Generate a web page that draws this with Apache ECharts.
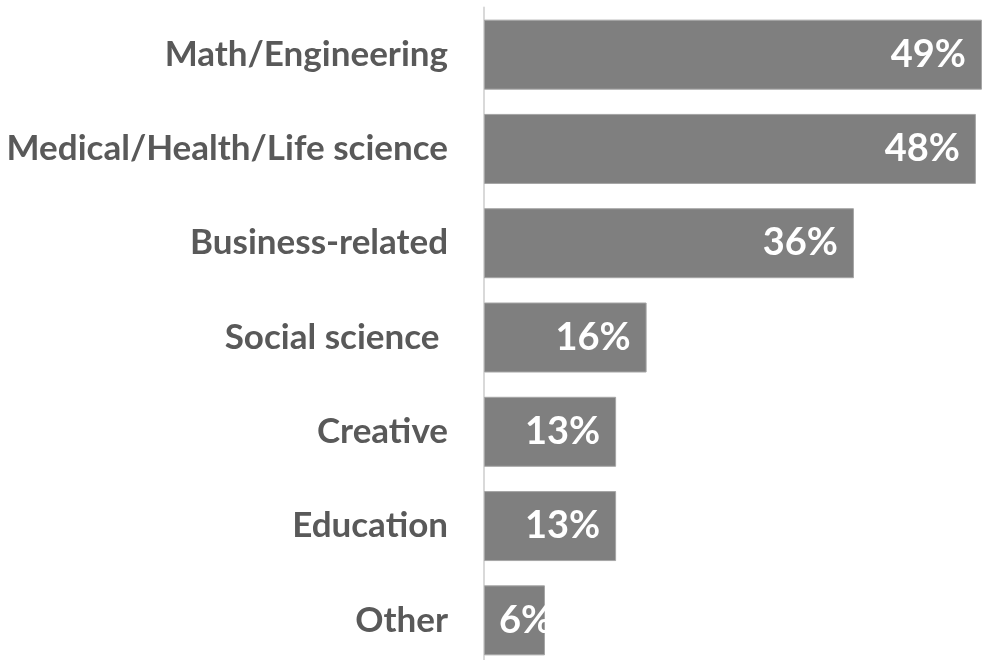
<!DOCTYPE html>
<html>
<head>
<meta charset="utf-8">
<script src="https://cdn.jsdelivr.net/npm/echarts@6/dist/echarts.min.js"></script>
<style>
  html, body { margin: 0; padding: 0; background: #fff; }
  #chart { width: 984px; height: 660px; }
</style>
</head>
<body>
<div id="chart"></div>
<script>
// fields of study, top to bottom
const categories = ['Math/Engineering', 'Medical/Health/Life science', 'Business-related', 'Social science ', 'Creative', 'Education', 'Other'];
// share (%)
const shares = [49, 48.4, 36.4, 16, 13, 13, 6];

const chart = echarts.init(document.getElementById('chart'));

// small bars get their label from the left, like the original
const barData = shares.map(function (v) {
  if (v < 10) {
    return { value: v, label: { position: 'insideLeft', distance: 15 } };
  }
  return v;
});

const option = {
  animation: false,
  grid: { left: 484, right: 2, top: 7.5, height: 660, outerBoundsMode: 'none', containLabel: false },
  xAxis: {
    type: 'value',
    min: 0,
    max: 49,
    show: false
  },
  yAxis: {
    type: 'category',
    inverse: true,
    data: categories,
    axisLine: { show: true, lineStyle: { color: '#d9d9d9', width: 2 } },
    axisTick: { show: false },
    axisLabel: {
      margin: 36,
      color: '#595959',
      fontFamily: 'Lato',
      fontWeight: 'bold',
      fontSize: 35
    }
  },
  series: [{
    type: 'bar',
    data: barData,
    barWidth: 70,
    itemStyle: { color: '#7f7f7f', borderColor: '#a6a6a6', borderWidth: 1 },
    label: {
      show: true,
      position: 'insideRight',
      distance: 16,
      color: '#fff',
      fontFamily: 'Lato',
      fontWeight: 'bold',
      fontSize: 38,
      formatter: function (p) { return Math.round(p.value) + '%'; }
    }
  }]
};
chart.setOption(option);
</script>
</body>
</html>
